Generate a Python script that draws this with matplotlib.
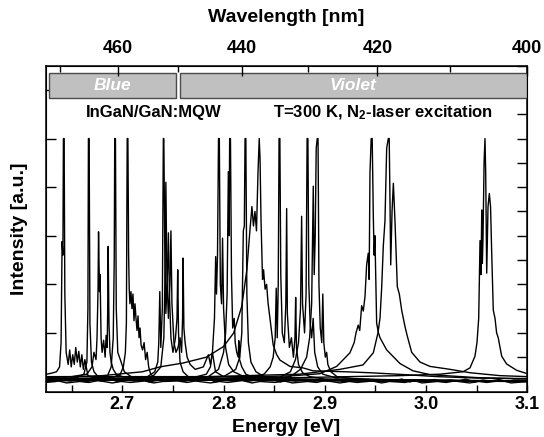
import matplotlib
matplotlib.use("Agg")
import matplotlib.pyplot as plt
from matplotlib.patches import Rectangle
from matplotlib.ticker import MultipleLocator

plt.rcParams['font.family'] = ['Liberation Sans', 'DejaVu Sans']
plt.rcParams['font.weight'] = 'bold'
plt.rcParams['mathtext.fontset'] = 'custom'
plt.rcParams['mathtext.rm'] = 'Liberation Sans:bold'
plt.rcParams['mathtext.it'] = 'Liberation Sans:bold'
plt.rcParams['mathtext.bf'] = 'Liberation Sans:bold'

# spectra: energy [eV] / intensity [a.u.], saturated at 5
e01 = [2.625, 2.630, 2.635, 2.638, 2.6395, 2.6405, 2.6413, 2.6418, 2.6425, 2.6432, 2.6445, 2.6465, 2.648, 2.6495,
       2.651, 2.6525, 2.654, 2.6555, 2.657, 2.6585, 2.660, 2.6615, 2.663, 2.666, 2.672, 2.69, 2.75, 2.85, 2.95, 3.05, 3.1]
i01 = [0.15, 0.17, 0.2, 0.3, 0.8, 2.88, 2.6, 5.0, 5.0, 1.8, 0.6, 0.35, 0.65, 0.3,
       0.55, 0.35, 0.7, 0.4, 0.62, 0.3, 0.55, 0.25, 0.45, 0.12, 0.08, 0.05, 0.03, 0.02, 0.02, 0.01, 0.01]

e02 = [2.625, 2.64, 2.655, 2.662, 2.665, 2.666, 2.6665, 2.6672, 2.668, 2.6695, 2.672, 2.676, 2.685, 2.72, 2.8, 2.9, 3.0, 3.1]
i02 = [0.05, 0.06, 0.08, 0.15, 0.4, 1.5, 5, 5, 1.2, 0.4, 0.2, 0.1, 0.06, 0.04, 0.03, 0.02, 0.01, 0.0]

e03 = [2.625, 2.65, 2.665, 2.670, 2.672, 2.674, 2.675, 2.676, 2.6765, 2.677, 2.6775, 2.678, 2.679, 2.680, 2.6815,
       2.683, 2.684, 2.685, 2.6855, 2.686, 2.6868, 2.6878, 2.689, 2.691, 2.694, 2.70, 2.73, 2.8, 2.95, 3.1]
i03 = [0.08, 0.1, 0.15, 0.3, 0.6, 0.45, 0.9, 1.9, 3.08, 2.4, 1.85, 2.2, 0.9, 0.6, 0.85,
       0.5, 0.95, 0.7, 1.4, 2.78, 1.2, 0.6, 0.4, 0.25, 0.15, 0.1, 0.05, 0.03, 0.02, 0.01]

e04 = [2.625, 2.66, 2.685, 2.689, 2.691, 2.692, 2.6925, 2.6932, 2.694, 2.6955, 2.698, 2.702, 2.71, 2.75, 2.85, 3.0, 3.1]
i04 = [0.03, 0.04, 0.1, 0.3, 0.9, 2.5, 5, 5, 1.5, 0.6, 0.45, 0.2, 0.08, 0.04, 0.02, 0.01, 0.0]

e05 = [2.625, 2.67, 2.69, 2.698, 2.701, 2.703, 2.704, 2.7048, 2.7055, 2.7062, 2.7068, 2.7075, 2.7085, 2.7095,
       2.7105, 2.7115, 2.7125, 2.7135, 2.7145, 2.7155, 2.7165, 2.7175, 2.7185, 2.720, 2.7215, 2.723, 2.7245,
       2.726, 2.728, 2.732, 2.74, 2.78, 2.9, 3.1]
i05 = [0.05, 0.06, 0.08, 0.15, 0.3, 0.6, 1.2, 5, 5, 2.6, 1.9, 1.6, 1.85, 1.5,
       1.8, 1.25, 1.6, 1.3, 1.05, 1.35, 0.9, 1.1, 0.75, 0.65, 0.8, 0.45, 0.6,
       0.3, 0.15, 0.08, 0.05, 0.03, 0.02, 0.01]

e06 = [2.625, 2.70, 2.725, 2.732, 2.735, 2.736, 2.737, 2.738, 2.7395, 2.7405, 2.741, 2.7418, 2.743, 2.7445,
       2.7455, 2.7465, 2.748, 2.750, 2.7525, 2.754, 2.7547, 2.7555, 2.757, 2.760, 2.765, 2.78, 2.85, 3.0, 3.1]
i06 = [0.05, 0.06, 0.1, 0.2, 0.4, 0.8, 1.85, 0.7, 1.5, 5, 5, 3.0, 1.4, 2.2,
       3.06, 1.8, 0.9, 0.6, 0.9, 1.3, 2.3, 1.0, 0.4, 0.2, 0.1, 0.06, 0.03, 0.02, 0.01]

e07 = [2.625, 2.70, 2.73, 2.738, 2.741, 2.742, 2.743, 2.744, 2.7455, 2.747, 2.748, 2.749, 2.751, 2.753, 2.755,
       2.757, 2.7585, 2.7595, 2.760, 2.7608, 2.762, 2.764, 2.767, 2.772, 2.78, 2.785, 2.787, 2.789, 2.792, 2.80,
       2.85, 3.0, 3.1]
i07 = [0.03, 0.05, 0.1, 0.3, 0.9, 2.0, 4.1, 2.2, 1.3, 2.0, 3.1, 1.6, 0.8, 0.6, 0.7,
       0.9, 0.6, 1.3, 2.54, 1.1, 0.8, 0.5, 0.35, 0.25, 0.3, 0.55, 0.35, 0.6, 0.2, 0.1,
       0.04, 0.02, 0.01]

e08 = [2.625, 2.72, 2.77, 2.783, 2.787, 2.789, 2.791, 2.7922, 2.793, 2.794, 2.795, 2.7958, 2.7968, 2.798, 2.799,
       2.800, 2.802, 2.805, 2.81, 2.82, 2.86, 2.95, 3.1]
i08 = [0.02, 0.03, 0.08, 0.15, 0.3, 0.6, 1.3, 2.57, 1.8, 2.6, 5, 5, 2.0, 1.6, 2.95,
       1.5, 0.7, 0.35, 0.2, 0.1, 0.05, 0.02, 0.01]

e09 = [2.625, 2.74, 2.785, 2.795, 2.800, 2.802, 2.8035, 2.8047, 2.8055, 2.806, 2.8068, 2.8078, 2.809, 2.8105,
       2.8115, 2.813, 2.8145, 2.815, 2.8158, 2.818, 2.822, 2.83, 2.87, 3.0, 3.1]
i09 = [0.02, 0.04, 0.1, 0.25, 0.6, 1.0, 1.8, 4.32, 3.0, 5, 5, 2.2, 1.1, 1.3,
       0.8, 0.6, 0.5, 0.84, 0.45, 0.3, 0.15, 0.08, 0.04, 0.02, 0.01]

e10 = [2.625, 2.75, 2.80, 2.812, 2.816, 2.818, 2.8195, 2.8205, 2.8212, 2.822, 2.823, 2.8245, 2.827, 2.832, 2.84,
       2.87, 3.0, 3.1]
i10 = [0.02, 0.04, 0.1, 0.25, 0.5, 1.0, 3.1, 3.2, 5, 5, 1.8, 0.8, 0.4, 0.2, 0.1,
       0.05, 0.02, 0.01]

e11 = [2.625, 2.68, 2.72, 2.737, 2.76, 2.783, 2.80, 2.81, 2.818, 2.823, 2.826, 2.828, 2.8295, 2.831, 2.8325,
       2.834, 2.8352, 2.836, 2.837, 2.8385, 2.8395, 2.841, 2.8425, 2.844, 2.846, 2.849, 2.8525, 2.8557, 2.8656,
       2.8784, 2.8883, 2.92, 2.9446, 2.98, 3.0108, 3.05, 3.1]
i11 = [0.08, 0.12, 0.2, 0.3, 0.38, 0.5, 0.72, 1.0, 1.55, 2.3, 3.1, 3.6, 3.2, 3.5, 3.1,
       4.3, 5.0, 4.6, 3.3, 2.1, 2.3, 1.9, 2.0, 1.6, 1.27, 0.75, 0.55, 0.44, 0.31,
       0.28, 0.22, 0.2, 0.18, 0.14, 0.1, 0.07, 0.06]

e12 = [2.625, 2.76, 2.82, 2.840, 2.846, 2.849, 2.851, 2.852, 2.853, 2.854, 2.8548, 2.8556, 2.8565, 2.858, 2.860,
       2.8615, 2.8623, 2.863, 2.865, 2.867, 2.869, 2.8705, 2.8712, 2.872, 2.874, 2.878, 2.885, 2.90, 3.0, 3.1]
i12 = [0.02, 0.03, 0.06, 0.15, 0.3, 0.5, 0.9, 1.92, 0.9, 2.0, 5, 5, 2.2, 1.0, 0.8,
       1.6, 3.56, 1.4, 0.7, 0.9, 0.5, 0.9, 1.73, 0.7, 0.35, 0.18, 0.1, 0.05, 0.02, 0.01]

e13 = [2.625, 2.80, 2.855, 2.866, 2.871, 2.874, 2.876, 2.8771, 2.878, 2.880, 2.8815, 2.8825, 2.8833, 2.8842,
       2.8855, 2.887, 2.8885, 2.890, 2.893, 2.898, 2.91, 2.95, 3.1]
i13 = [0.02, 0.03, 0.08, 0.2, 0.45, 0.8, 1.5, 3.4, 1.6, 1.0, 1.8, 5, 5, 2.0,
       1.2, 0.9, 1.3, 0.6, 0.3, 0.15, 0.08, 0.04, 0.01]

e14 = [2.625, 2.82, 2.866, 2.876, 2.882, 2.885, 2.887, 2.8886, 2.8895, 2.8905, 2.8915, 2.8925, 2.8933, 2.8942,
       2.8955, 2.897, 2.898, 2.899, 2.9005, 2.9018, 2.903, 2.906, 2.912, 2.93, 3.0, 3.1]
i14 = [0.02, 0.04, 0.1, 0.25, 0.5, 0.9, 1.6, 4.02, 2.2, 2.98, 4.8, 5, 5, 2.0,
       1.1, 0.8, 1.8, 0.8, 0.5, 0.6, 0.35, 0.2, 0.1, 0.05, 0.02, 0.01]

e15 = [2.625, 2.70, 2.78, 2.84, 2.87, 2.8952, 2.9117, 2.9248, 2.9290, 2.9308, 2.933, 2.9345, 2.9364, 2.938,
       2.9397, 2.9413, 2.9429, 2.9438, 2.9446, 2.9458, 2.9468, 2.9479, 2.9487, 2.9495, 2.9512, 2.953, 2.9545,
       2.9611, 2.9742, 2.987, 3.004, 3.05, 3.1]
i15 = [0.1, 0.1, 0.1, 0.1, 0.12, 0.16, 0.31, 0.59, 0.8, 1.0, 1.16, 1.05, 1.56, 1.45,
       1.75, 2.4, 2.64, 2.1, 4.29, 5, 5, 3.4, 2.6, 3.0, 1.2, 1.0, 0.9,
       0.65, 0.37, 0.22, 0.14, 0.08, 0.05]

e16 = [2.625, 2.75, 2.875, 2.915, 2.9377, 2.9479, 2.9525, 2.9545, 2.9562, 2.9578, 2.9594, 2.9611, 2.9627, 2.9636,
       2.9644, 2.9651, 2.9664, 2.9677, 2.9693, 2.9716, 2.9736, 2.9759, 2.9792, 2.9814, 2.9858, 2.9940, 3.0039,
       3.0236, 3.0434, 3.073, 3.1]
i16 = [0.06, 0.08, 0.15, 0.25, 0.34, 0.59, 1.0, 1.3, 1.95, 2.8, 3.3, 4.8, 5, 5,
       3.67, 2.4, 3.5, 4.08, 3.3, 1.95, 1.8, 1.47, 1.13, 0.94, 0.6, 0.4, 0.31,
       0.25, 0.18, 0.12, 0.1]

e17 = [2.625, 2.75, 2.875, 2.974, 3.0137, 3.0365, 3.0434, 3.0483, 3.0503, 3.052, 3.0533, 3.0543, 3.055, 3.0556,
       3.0563, 3.0573, 3.0582, 3.0589, 3.0599, 3.0612, 3.0625, 3.0637, 3.0649, 3.0664, 3.0681, 3.0697, 3.0713,
       3.0747, 3.0796, 3.0895, 3.1]
i17 = [0.05, 0.06, 0.08, 0.12, 0.15, 0.2, 0.28, 0.52, 0.8, 1.3, 2.9, 2.2, 3.53, 2.43,
       3.0, 4.5, 5, 4.3, 2.23, 3.6, 3.87, 3.6, 2.6, 1.47, 1.3, 1.0, 0.9,
       0.52, 0.36, 0.23, 0.16]

# noisy baselines of the weak spectra
en1 = [2.625, 2.633, 2.640, 2.649, 2.656, 2.664, 2.671, 2.680, 2.688, 2.695, 2.703, 2.712, 2.720, 2.727, 2.736,
       2.744, 2.751, 2.760, 2.768, 2.775, 2.784, 2.792, 2.799, 2.808, 2.816, 2.823, 2.832, 2.840, 2.847, 2.856,
       2.864, 2.871, 2.880, 2.888, 2.895, 2.904, 2.912, 2.919, 2.928, 2.936, 2.943, 2.952, 2.960, 2.967, 2.976,
       2.984, 2.991, 3.000, 3.008, 3.015, 3.024, 3.032, 3.039, 3.048, 3.056, 3.063, 3.072, 3.080, 3.087, 3.1]
in1 = [0.03, 0.0, 0.04, 0.01, 0.05, -0.01, 0.03, 0.01, 0.05, 0.0, 0.03, 0.01, 0.04, -0.01, 0.03,
       0.01, 0.05, 0.0, 0.03, 0.01, 0.06, -0.01, 0.03, 0.01, 0.04, 0.0, 0.03, 0.01, 0.05, -0.01,
       0.03, 0.01, 0.04, 0.0, 0.03, 0.01, 0.05, -0.01, 0.03, 0.01, 0.04, 0.0, 0.03, 0.01, 0.05,
       -0.01, 0.03, 0.01, 0.04, 0.0, 0.03, 0.01, 0.05, -0.01, 0.03, 0.01, 0.04, 0.0, 0.03, 0.02]

en2 = [2.625, 2.637, 2.645, 2.658, 2.667, 2.676, 2.690, 2.699, 2.708, 2.722, 2.731, 2.740, 2.755, 2.764, 2.772,
       2.787, 2.796, 2.804, 2.819, 2.828, 2.836, 2.851, 2.860, 2.868, 2.883, 2.892, 2.900, 2.915, 2.924, 2.932,
       2.947, 2.956, 2.964, 2.979, 2.988, 2.996, 3.011, 3.020, 3.028, 3.043, 3.052, 3.060, 3.075, 3.084, 3.1]
in2 = [-0.02, 0.01, -0.03, 0.0, -0.02, 0.02, -0.03, 0.0, -0.02, 0.01, -0.03, 0.0, 0.01, -0.02, 0.01,
       -0.03, 0.0, -0.02, 0.02, -0.03, 0.0, -0.02, 0.01, -0.03, 0.0, -0.02, 0.02, -0.03, 0.0, -0.02,
       0.01, -0.03, 0.0, -0.02, 0.02, -0.03, 0.0, -0.02, 0.01, -0.03, 0.0, -0.02, 0.02, -0.03, 0.0]

spectra = [(e01, i01), (e02, i02), (e03, i03), (e04, i04), (e05, i05), (e06, i06), (e07, i07), (e08, i08),
           (e09, i09), (e10, i10), (e11, i11), (e12, i12), (e13, i13), (e14, i14), (e15, i15), (e16, i16),
           (e17, i17), (en1, in1), (en2, in2)]

# spectral bands (energy limits) and top-axis wavelengths
band_names = ["Blue", "Violet"]
band_lo = [2.628, 2.7565]
band_hi = [2.7535, 3.1]
wl_major = [460, 440, 420, 400]
wl_minor = [470, 450, 430, 410]
HC = 1239.84

fig = plt.figure(figsize=(5.44, 4.37), dpi=100)
ax = fig.add_axes([0.084, 0.1037, 0.8853, 0.746])

for e, i in spectra:
    ax.plot(e, i, color='black', lw=1.0)

ax.set_xlim(2.6243, 3.1)
ax.set_ylim(-0.21, 6.5)

ax.xaxis.set_major_locator(MultipleLocator(0.1))
ax.xaxis.set_minor_locator(MultipleLocator(0.05))
ax.yaxis.set_major_locator(MultipleLocator(1))
ax.yaxis.set_minor_locator(MultipleLocator(0.5))
ax.xaxis.set_major_formatter(plt.FuncFormatter(lambda v, p: f"{v:.1f}"))
ax.tick_params(axis='x', which='both', direction='in', top=False, labelsize=13, pad=3)
ax.tick_params(axis='x', which='major', length=5, width=1)
ax.tick_params(axis='x', which='minor', length=5, width=1)
ax.tick_params(axis='y', which='major', direction='in', left=True, right=True, labelleft=False,
               length=7, width=1)
ax.tick_params(axis='y', which='minor', direction='in', left=False, right=True, length=7, width=1)
for s in ax.spines.values():
    s.set_linewidth(1.1)

ax2 = ax.twiny()
ax2.set_xlim(ax.get_xlim())
ax2.set_xticks([HC / w for w in wl_major])
ax2.set_xticklabels([str(w) for w in wl_major])
ax2.set_xticks([HC / w for w in wl_minor], minor=True)
ax2.tick_params(axis='x', which='both', direction='in', labelsize=13, pad=6, width=1)
ax2.tick_params(axis='x', which='major', length=7)
ax2.tick_params(axis='x', which='minor', length=4)

trans = ax.get_xaxis_transform()
for name, lo, hi in zip(band_names, band_lo, band_hi):
    ax.add_patch(Rectangle((lo, 0.90), hi - lo, 0.0785, transform=trans, facecolor='#c0c0c0',
                           edgecolor='#4a4a4a', lw=1.0, zorder=3))
    ax.text((lo + hi) / 2, 0.939, name, transform=trans, ha='center', va='center', color='white',
            fontsize=12.5, fontstyle='italic', fontweight='bold', zorder=4)

ax.text(0.225, 0.855, "InGaN/GaN:MQW", transform=ax.transAxes, ha='center', va='center', fontsize=12)
ax.text(0.472, 0.855, r"T=300 K, N$_{2}$-laser excitation", transform=ax.transAxes, ha='left',
        va='center', fontsize=12)

fig.text(286.5 / 544, 1 - 18 / 437, "Wavelength [nm]", ha='center', va='center', fontsize=14)
fig.text(286.5 / 544, 1 - 428 / 437, "Energy [eV]", ha='center', va='center', fontsize=14)
fig.text(20 / 544, 1 - 228.7 / 437, "Intensity [a.u.]", ha='center', va='center', rotation=90, fontsize=14)

fig.savefig("out.png", dpi=100)
